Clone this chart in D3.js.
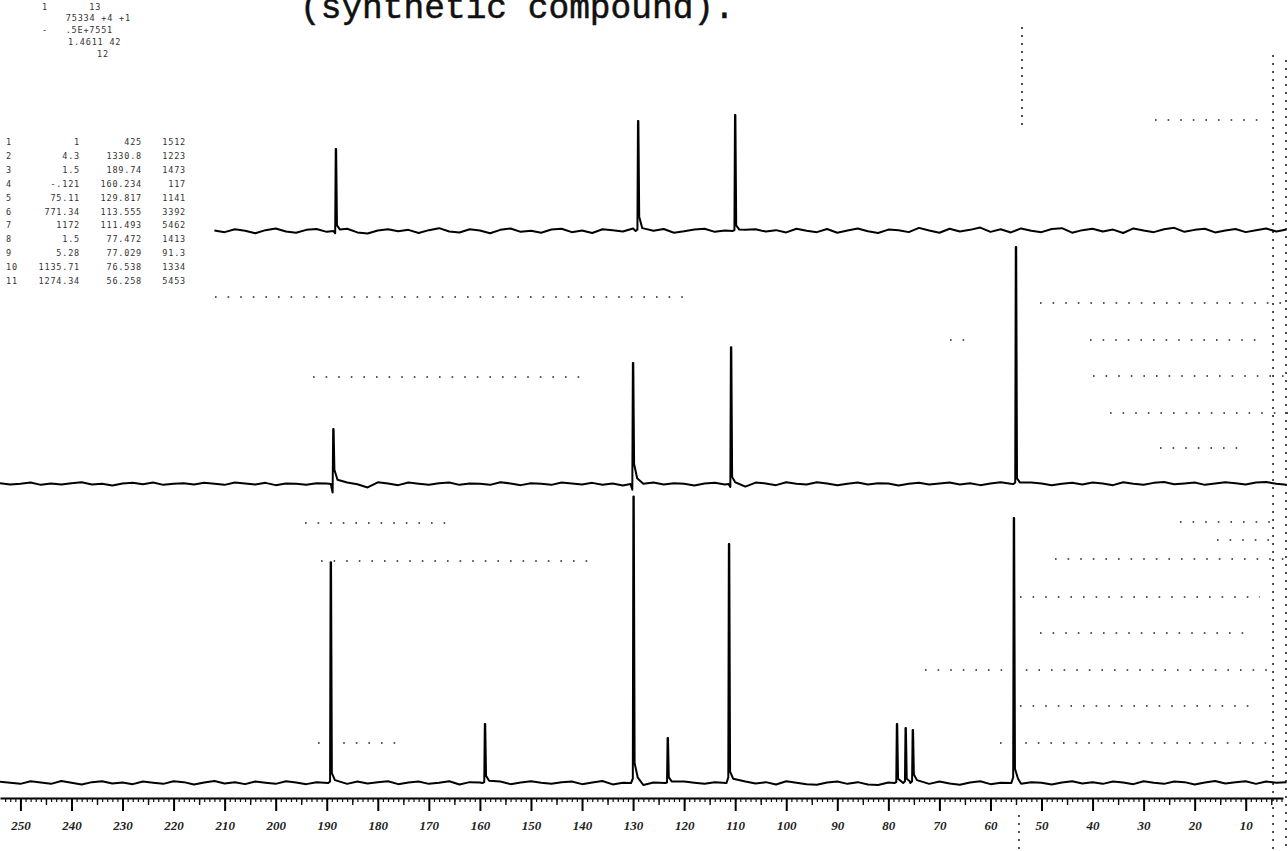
<!DOCTYPE html>
<html>
<head>
<meta charset="utf-8">
<script src="https://cdn.jsdelivr.net/npm/d3@7"></script>
<style>
  html, body { margin: 0; padding: 0; background: #fff; }
  svg { display: block; }
  .mono { font-family: "DejaVu Sans Mono", monospace; font-size: 8.5px; fill: #333; letter-spacing: 0.8px; white-space: pre; }
</style>
</head>
<body>
<div id="viz"></div>
<script>
/*
* 13C spectrum with two edited traces
*/
(function () {
  'use strict';

  // axis ticks (ppm) and their labels
  var majorTicks = [250, 240, 230, 220, 210, 200, 190, 180, 170, 160, 150, 140, 130, 120, 110, 100, 90, 80, 70, 60, 50, 40, 30, 20, 10];
  var tickLabels = ['250', '240', '230', '220', '210', '200', '190', '180', '170', '160', '150', '140', '130', '120', '110', '100', '90', '80', '70', '60', '50', '40', '30', '20', '10'];

  // peaks: [ppm, height, left foot, tail, far tail]
  var bottomPeaks = [
    [189.2, 77.5, 0.5, 3.5, 1.0],
    [159.0, 20.7, 0.3, 2.5, 0.8],
    [129.9, 100.5, 1.5, 7.0, 2.0],
    [123.2, 15.8, 0.2, 2.0, 0.5],
    [111.2, 83.9, 2.0, 4.0, 1.5],
    [78.3, 20.7, 0.3, 1.5, 0.6],
    [76.6, 19.3, 0.6, 1.5, 0.6],
    [75.2, 18.6, 0.6, 3.0, 1.0],
    [55.4, 93.0, 2.0, 5.0, 1.5]
  ];
  var middlePeaks = [
    [188.7, 19.3, -3.0, 5.0, 1.5],
    [130.0, 42.5, -2.0, 7.0, 2.0],
    [110.8, 48.0, -1.0, 2.5, 0.6],
    [55.0, 83.2, 0.5, 2.0, 0.5]
  ];
  var topPeaks = [
    [188.2, 28.8, -0.8, 2.0, 0.5],
    [129.0, 38.6, 0.5, 5.0, 1.0],
    [110.0, 40.7, 0.3, 2.0, 0.5]
  ];

  // baseline wiggle read every 2 ppm (bottom/middle from 254, top from 212)
  var bottomNoise = [
    0.4, 0.1, -0.3, 0.6, 0.2, -0.3, 0.7, 0.1, -0.5, 0.3,
    0.6, -0.2, 0.2, -0.4, 0.5, 0.1, -0.3, 0.6, 0.3, -0.5,
    0.2, 0.7, -0.2, 0.3, -0.4, 0.5, 0.1, -0.3, 0.6, 0.2,
    -0.4, 0.3, 0.7, 0.2, -0.3, 0.5, -0.2, 0.3, 0.6, -0.4,
    0.2, 0.5, -0.3, 0.1, 0.6, -0.5, 0.3, 0.2, -0.2, 0.5,
    -0.4, 0.2, 0.6, 0.1, -0.3, 0.3, 0.5, -0.4, 0.2, 0.7,
    -0.5, 0.1, 0.3, -0.7, 0.2, 0.6, -0.4, 0.5, 0.1, -0.3,
    0.3, -0.6, 0.2, 0.5, -0.2, 0.3, -0.5, 0.6, 0.1, -0.4,
    -0.6, 0.2, 0.5, -0.3, 0.3, -0.5, -0.7, 0.2, -0.4, 0.1,
    0.3, -0.3, 0.5, -0.2, -0.6, 0.2, 0.6, -0.4, 0.1, 0.5,
    -0.3, 0.3, 0.1, -0.5, 0.2, 0.6, -0.2, 0.3, -0.3, 0.5,
    0.2, -0.4, 0.6, 0.1, -0.3, 0.5, 0.3, -0.5, 0.2, 0.7,
    -0.2, 0.3, 0.6, -0.3, 0.5, 0.1, 0.3
  ];
  var middleNoise = [
    0.3, -0.2, 0.1, 0.5, -0.3, 0.2, -0.2, 0.3, 0.6, -0.2,
    0.1, -0.5, 0.2, 0.4, -0.1, 0.5, -0.3, 0.1, 0.3, -0.2,
    0.4, 0.1, -0.3, 0.5, 0.2, -0.2, 0.4, -0.4, 0.2, 0.1,
    -0.3, 0.3, 0.2, -0.3, 0.5, -0.1, -1.2, 0.6, 0.2, -0.4,
    0.5, 0.1, -0.3, 0.3, 0.5, -0.3, 0.2, 0.1, -0.3, 0.6,
    0.2, -0.4, 0.3, 0.1, -0.3, 0.5, 0.2, -0.2, 0.4, -0.3,
    0.2, -0.5, -0.8, 0.1, 0.5, -0.2, 0.3, 0.1, -0.5, 0.2,
    0.4, -0.2, 0.1, -0.9, 0.5, 0.2, -0.4, 0.6, 0.1, -0.2,
    0.6, 0.2, -0.4, 0.1, 0.5, -0.2, 0.3, 0.2, -0.5, 0.1,
    0.4, -0.2, 0.2, 0.5, -0.2, 0.3, -0.4, 0.2, 0.6, 0.1,
    -0.3, 0.5, 0.2, -0.4, 0.1, 0.4, -0.2, 0.5, 0.2, -0.4,
    0.6, 0.1, -0.3, 0.4, 0.7, -0.1, 0.2, 0.5, -0.3, 0.2,
    0.6, 0.3, -0.2, 0.5, 0.7, 0.1, -0.3
  ];
  var topNoise = [
    0.2, -0.4, 0.6, 0.1, -0.8, 0.3, 0.9, -0.2, -0.6, 0.4, 0.7, -0.3, 0.1, 0.8, -0.5, -0.9, 0.2, 0.6, -0.1, 0.4,
    -0.7, 0.3, 1.0, -0.2, -0.5, 0.6, 0.2, -0.8, 0.4, 0.9, -0.3, 0.1, -0.6, 0.5, 0.8, -0.4, 0.2, -0.7, 0.6, 0.3,
    -0.2, 0.9, -0.5, 0.1, 0.7, -0.6, -0.1, 0.5, 0.8, -0.3, 0.2, -0.9, 0.4, 0.6, -0.2, 0.3, -0.5, 0.8, 0.1, -0.4,
    0.7, -0.6, 0.2, 0.9, -0.1, -0.7, 0.5, 0.3, -0.4, 1.1, 0.2, -0.6, 0.8, -0.2, 0.4, 1.2, -0.3, 0.6, -0.5, 0.9,
    0.1, -0.4, 0.7, 1.0, -0.6, 0.3, 0.8, -0.2, 0.5, -0.7, 0.9, 0.2, -0.4, 0.6, 1.1, -0.3, 0.4, 0.8, -0.5, 0.2,
    0.7, -0.4, 0.3, 0.9, -0.2, 0.5
  ];

  // printed header and peak table
  var headerLines = ['1       13', '  75334 +4 +1', '-   .5E+7551', '1.4611 42', '12'];
  var tableRows = [
    ['1', '1', '425', '1512'],
    ['2', '4.3', '1330.8', '1223'],
    ['3', '1.5', '189.74', '1473'],
    ['4', '-.121', '160.234', '117'],
    ['5', '75.11', '129.817', '1141'],
    ['6', '771.34', '113.555', '3392'],
    ['7', '1172', '111.493', '5462'],
    ['8', '1.5', '77.472', '1413'],
    ['9', '5.28', '77.029', '91.3'],
    ['10', '1135.71', '76.538', '1334'],
    ['11', '1274.34', '56.258', '5453']
  ];

  var W = 1288, H = 851;
  var svg = d3.select('#viz')
  .append('svg')
  .attr('width', W)
  .attr('height', H);

  svg.append('rect').attr('width', W).attr('height', H).attr('fill', '#fff');

  var x = d3.scaleLinear().domain([254, 2.7]).range([0, 1283]);
  var yTop = d3.scaleLinear().domain([0, 100]).range([231, -54]);
  var yMid = d3.scaleLinear().domain([0, 100]).range([484, 199]);
  var yBot = d3.scaleLinear().domain([0, 100]).range([783, 498]);

  // merge wiggle and peak points into one trace
  function buildTrace(startPpm, noise, peaks) {
    var pts = [];
    noise.forEach(function (v, i) {
      var p = startPpm - i * 2;
      var near = peaks.some(function (pk) { return p < pk[0] + 0.9 && p > pk[0] - 1.3; });
      if (!near) { pts.push([p, v]); }
    });
    peaks.forEach(function (pk) {
      pts.push([pk[0] + 0.5, 0], [pk[0] + 0.15, pk[2]], [pk[0] + 0.04, pk[1]],
        [pk[0] - 0.04, pk[1]], [pk[0] - 0.2, pk[3]], [pk[0] - 0.8, pk[4]]);
    });
    pts.sort(function (a, b) { return b[0] - a[0]; });
    return pts;
  }

  function drawTrace(pts, y) {
    var line = d3.line()
    .x(function (d) { return x(d[0]); })
    .y(function (d) { return y(d[1]); });
    svg.append('path')
    .attr('d', line(pts))
    .attr('fill', 'none')
    .attr('stroke', '#000')
    .attr('stroke-width', 2)
    .attr('stroke-linejoin', 'round');
  }

  // scan artefacts: faint dotted rules
  var dotRules = [
    [1155, 1265, 120], [1040, 1290, 303], [950, 975, 340], [1090, 1265, 340], [1093, 1290, 376],
    [1110, 1290, 413], [1160, 1240, 448], [1180, 1270, 522], [1217, 1280, 540], [1055, 1290, 559],
    [1020, 1260, 597], [1040, 1250, 633], [925, 1270, 670], [1020, 1250, 706], [1000, 1270, 743],
    [215, 690, 297], [313, 586, 377], [305, 446, 523], [321, 592, 561], [318, 405, 743]
  ];
  svg.append('g').selectAll('line')
  .data(dotRules)
  .enter().append('line')
  .attr('x1', function (d) { return d[0]; })
  .attr('x2', function (d) { return d[1]; })
  .attr('y1', function (d) { return d[2]; })
  .attr('y2', function (d) { return d[2]; })
  .attr('stroke', '#222')
  .attr('stroke-width', 1.6)
  .attr('stroke-dasharray', '1.6,11');

  var dotCols = [[1273, 55, 851], [1286, 60, 851], [1022, 27, 130], [1019, 815, 851]];
  svg.append('g').selectAll('line')
  .data(dotCols)
  .enter().append('line')
  .attr('x1', function (d) { return d[0]; })
  .attr('x2', function (d) { return d[0]; })
  .attr('y1', function (d) { return d[1]; })
  .attr('y2', function (d) { return d[2]; })
  .attr('stroke', '#222')
  .attr('stroke-width', 1.6)
  .attr('stroke-dasharray', '2,6');

  drawTrace(buildTrace(212, topNoise, topPeaks), yTop);
  drawTrace(buildTrace(254, middleNoise, middlePeaks), yMid);
  drawTrace(buildTrace(254, bottomNoise, bottomPeaks), yBot);

  // ppm axis
  var axisY = 798;
  var gMinor = svg.append('g')
  .attr('transform', 'translate(0,' + axisY + ')')
  .call(d3.axisBottom(x).tickValues(d3.range(253, 2, -1)).tickSize(4).tickSizeOuter(0).tickFormat(''));
  gMinor.select('.domain').attr('stroke-width', 2.2).attr('stroke', '#000');
  gMinor.selectAll('.tick line').attr('stroke-width', 1.2).attr('stroke', '#111');

  var gMid = svg.append('g')
  .attr('transform', 'translate(0,' + axisY + ')')
  .call(d3.axisBottom(x).tickValues(d3.range(255, 2, -10)).tickSize(7).tickSizeOuter(0).tickFormat(''));
  gMid.select('.domain').remove();
  gMid.selectAll('.tick line').attr('stroke-width', 1.4).attr('stroke', '#111');

  var gMajor = svg.append('g')
  .attr('transform', 'translate(0,' + axisY + ')')
  .call(d3.axisBottom(x).tickValues(majorTicks).tickSize(13).tickSizeOuter(0).tickPadding(10)
    .tickFormat(function (d, i) { return tickLabels[i]; }));
  gMajor.select('.domain').remove();
  gMajor.selectAll('.tick line').attr('stroke-width', 2).attr('stroke', '#000');
  gMajor.selectAll('.tick text')
  .attr('font-family', '"Liberation Serif", serif')
  .attr('font-style', 'italic')
  .attr('font-weight', 'bold')
  .attr('font-size', 13)
  .attr('fill', '#222');

  // title, cut by the top edge
  svg.append('text')
  .attr('x', 300)
  .attr('y', 18)
  .attr('font-family', '"Liberation Mono", monospace')
  .attr('font-size', 34.5)
  .attr('fill', '#111')
  .attr('stroke', '#111')
  .attr('stroke-width', 0.5)
  .text('(synthetic compound).');

  // header block
  var headerPos = [[42, 10], [54, 21], [42, 33], [68, 45], [97, 57]];
  svg.append('g').selectAll('text')
  .data(headerLines)
  .enter().append('text')
  .attr('class', 'mono')
  .attr('x', function (d, i) { return headerPos[i][0]; })
  .attr('y', function (d, i) { return headerPos[i][1]; })
  .text(function (d) { return d; });

  // peak table
  var colX = [6, 80, 142, 186];
  var rows = svg.append('g').selectAll('g')
  .data(tableRows)
  .enter().append('g')
  .attr('transform', function (d, i) { return 'translate(0,' + (145 + i * 13.9) + ')'; });
  rows.selectAll('text')
  .data(function (d) { return d; })
  .enter().append('text')
  .attr('class', 'mono')
  .attr('x', function (d, j) { return colX[j]; })
  .attr('text-anchor', function (d, j) { return j === 0 ? 'start' : 'end'; })
  .text(function (d) { return d; });
})();
</script>
</body>
</html>
